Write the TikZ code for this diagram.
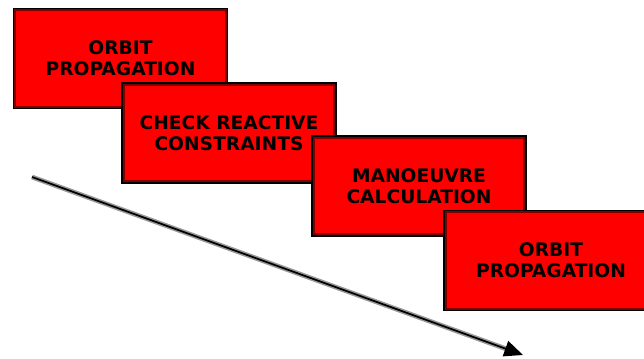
\documentclass[tikz,border=0pt]{standalone}
\usepackage{fontspec}
\setmainfont{DejaVu Sans}
\usepackage{tikz}
\usetikzlibrary{calc,arrows.meta}

\tikzset{
    stagebox/.style={draw=black, line width=2.4pt, fill=red, minimum width=159.5pt, minimum height=74pt,
        inner sep=0pt, align=center, font=\fontsize{14}{16}\selectfont\bfseries},
    innerline/.style={draw=red!50!black, line width=1.4pt}
}

\begin{document}
\begin{tikzpicture}[x=0.75pt,y=0.75pt]
        \useasboundingbox (0,0) rectangle (644,358);
        % the four stages, each one overlapping the previous
        \node[stagebox] (orbitA) at (120.5,299.5) {ORBIT\\PROPAGATION};
        \draw[innerline] ([shift={(2pt,2pt)}]orbitA.south west) rectangle ([shift={(-2pt,-2pt)}]orbitA.north east);
        \node[stagebox] (check) at (229,225) {CHECK REACTIVE\\CONSTRAINTS};
        \draw[innerline] ([shift={(2pt,2pt)}]check.south west) rectangle ([shift={(-2pt,-2pt)}]check.north east);
        \node[stagebox] (manoeuvre) at (419,172) {MANOEUVRE\\CALCULATION};
        \draw[innerline] ([shift={(2pt,2pt)}]manoeuvre.south west) rectangle ([shift={(-2pt,-2pt)}]manoeuvre.north east);
        \node[stagebox] (orbitB) at (551,97.5) {ORBIT\\PROPAGATION};
        \draw[innerline] ([shift={(2pt,2pt)}]orbitB.south west) rectangle ([shift={(-2pt,-2pt)}]orbitB.north east);
        % time arrow
        \coordinate (tstart) at (32,181);
        \coordinate (tend) at (523,3);
        \draw[gray!80, line width=3.6pt, shorten >=12pt] (tstart) -- (tend);
        \draw[black, line width=1.3pt, -{Triangle[length=14pt,width=12pt]}] (tstart) -- (tend);
    \end{tikzpicture}
\end{document}
